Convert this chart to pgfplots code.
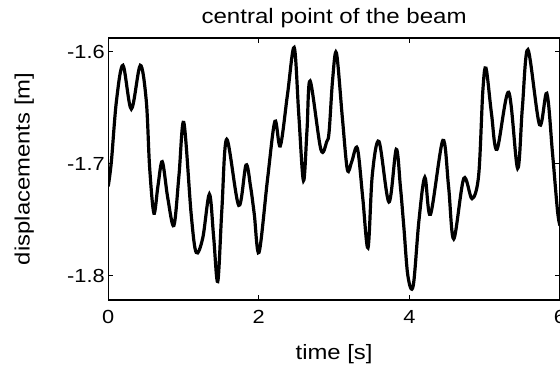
\documentclass[border=0pt]{standalone}
\usepackage{pgfplots}
\pgfplotsset{compat=1.18}
\usepackage{fontspec}
\setmainfont[FakeStretch=1.15]{Liberation Sans}
\begin{document}
\begin{tikzpicture}
\begin{axis}[
  width=453pt, height=262.7pt, scale only axis,
  xmin=0, xmax=6, ymin=-1.8214, ymax=-1.5875,
  xtick={0,2,4,6}, ytick={-1.8,-1.7,-1.6},
  tick align=inside, tick pos=both, major tick length=5pt,
  separate axis lines,
  axis line style={draw=black, line width=1.3pt},
  every tick/.style={draw=black, line width=1pt},
  /pgf/number format/assume math mode=true,
  yticklabel style={/pgf/number format/fixed, /pgf/number format/precision=1, /pgf/number format/fixed zerofill},
  xticklabel style={yshift=-7pt},
  tick label style={font=\fontsize{19}{19}\selectfont},
  label style={font=\fontsize{20.8}{20.8}\selectfont},
  title style={font=\fontsize{21}{21}\selectfont, at={(axis description cs:0.5,1.033)}, anchor=base},
  xlabel style={at={(axis description cs:0.5,-0.206)}, anchor=center},
  ylabel style={at={(axis description cs:-0.186,0.5)}, anchor=center},
  title={central point of the beam},
  xlabel={time [s]},
  ylabel={displacements [m]},
]
\addplot[black, line width=3.2pt, smooth, tension=0.55] coordinates {
(0.000,-1.720) (0.042,-1.698) (0.109,-1.644) (0.196,-1.612) (0.307,-1.651)
(0.426,-1.612) (0.506,-1.644) (0.550,-1.703) (0.607,-1.744) (0.660,-1.720)
(0.718,-1.698) (0.790,-1.730) (0.872,-1.755) (0.940,-1.710) (1.004,-1.663)
(1.102,-1.745) (1.168,-1.779) (1.256,-1.766) (1.344,-1.727) (1.400,-1.765)
(1.455,-1.805) (1.510,-1.740) (1.574,-1.678) (1.733,-1.737) (1.830,-1.701)
(1.890,-1.720) (1.940,-1.745) (2.003,-1.779) (2.117,-1.713) (2.214,-1.662)
(2.285,-1.684) (2.381,-1.638) (2.470,-1.596) (2.530,-1.655) (2.593,-1.715)
(2.640,-1.670) (2.682,-1.626) (2.824,-1.687) (2.903,-1.680) (2.934,-1.671)
(2.980,-1.625) (3.031,-1.601) (3.110,-1.659) (3.176,-1.705) (3.234,-1.698)
(3.309,-1.686) (3.380,-1.730) (3.450,-1.775) (3.507,-1.710) (3.596,-1.680)
(3.728,-1.734) (3.825,-1.687) (3.880,-1.720) (3.927,-1.757) (3.980,-1.800)
(4.050,-1.809) (4.126,-1.751) (4.205,-1.712) (4.280,-1.745) (4.444,-1.679)
(4.520,-1.720) (4.589,-1.767) (4.722,-1.713) (4.832,-1.731) (4.920,-1.710)
(4.975,-1.635) (5.017,-1.6145) (5.090,-1.655) (5.163,-1.687) (5.318,-1.636)
(5.437,-1.704) (5.500,-1.650) (5.574,-1.598) (5.728,-1.665) (5.825,-1.637)
(5.900,-1.690) (5.967,-1.742) (6.000,-1.755)
};
\draw[black, line width=1.3pt] (rel axis cs:0,0) -- (rel axis cs:1,0) -- (rel axis cs:1,1) -- (rel axis cs:0,1) -- cycle;
\end{axis}
\pgfresetboundingbox
\path (current axis.south west) ++(-108.5pt,-66.3pt) coordinate (bbA);
\path (current axis.north east) ++(-1.5pt,38pt) coordinate (bbB);
\path[use as bounding box] (bbA) rectangle (bbB);
\end{tikzpicture}
\end{document}
